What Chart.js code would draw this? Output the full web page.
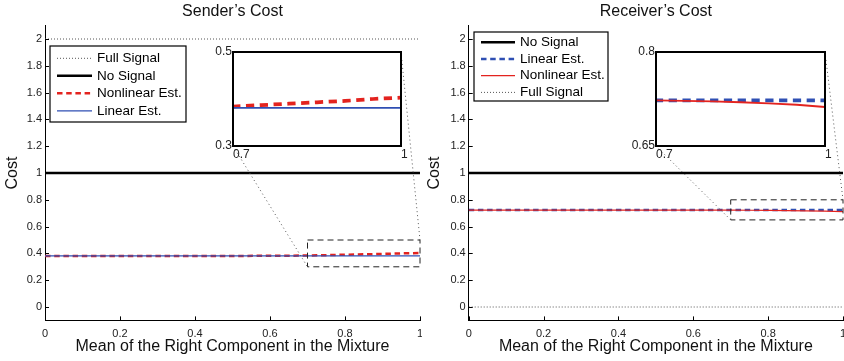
<!DOCTYPE html>
<html>
<head>
<meta charset="utf-8">
<script src="https://cdn.jsdelivr.net/npm/chart.js@4.4.0/dist/chart.umd.min.js"></script>
<style>
  html, body { margin: 0; padding: 0; background: #fff; }
  #wrap { position: relative; width: 844px; height: 361px; overflow: hidden; }
  #wrap canvas { position: absolute; }
</style>
</head>
<body>
<div id="wrap">
  <canvas id="senderChart" width="422" height="361" style="left:0;top:0"></canvas>
  <canvas id="receiverChart" width="422" height="361" style="left:422px;top:0"></canvas>
  <canvas id="senderInset" width="204" height="120" style="left:207px;top:44px"></canvas>
  <canvas id="receiverInset" width="205" height="120" style="left:630px;top:44px"></canvas>
</div>
<script>
// x positions (mean of the right component)
const xValues = [0, 0.1, 0.2, 0.3, 0.4, 0.5, 0.6, 0.7, 0.75, 0.8, 0.85, 0.9, 0.95, 1];

// Sender's cost
const senderFull      = [2, 2, 2, 2, 2, 2, 2, 2, 2, 2, 2, 2, 2, 2];
const senderNoSignal  = [1, 1, 1, 1, 1, 1, 1, 1, 1, 1, 1, 1, 1, 1];
const senderNonlinear = [0.381, 0.381, 0.381, 0.381, 0.381, 0.381, 0.382, 0.384, 0.387, 0.390, 0.393, 0.396, 0.400, 0.403];
const senderLinear    = [0.381, 0.381, 0.381, 0.381, 0.381, 0.381, 0.381, 0.381, 0.381, 0.381, 0.381, 0.381, 0.381, 0.381];

// Receiver's cost
const receiverNoSignal  = [1, 1, 1, 1, 1, 1, 1, 1, 1, 1, 1, 1, 1, 1];
const receiverLinear    = [0.723, 0.723, 0.723, 0.723, 0.723, 0.723, 0.723, 0.723, 0.723, 0.723, 0.723, 0.723, 0.723, 0.723];
const receiverNonlinear = [0.723, 0.723, 0.723, 0.723, 0.723, 0.723, 0.723, 0.7229, 0.7221, 0.7212, 0.7198, 0.718, 0.7158, 0.7122];
const receiverFull      = [0, 0, 0, 0, 0, 0, 0, 0, 0, 0, 0, 0, 0, 0];

// axis ticks
const xTicks = [0, 0.2, 0.4, 0.6, 0.8, 1];
const xTickLabels = ["0", "0.2", "0.4", "0.6", "0.8", "1"];
const yTicks = [0, 0.2, 0.4, 0.6, 0.8, 1, 1.2, 1.4, 1.6, 1.8, 2];
const yTickLabels = ["0", "0.2", "0.4", "0.6", "0.8", "1", "1.2", "1.4", "1.6", "1.8", "2"];

// zoomed regions shown in the insets
const senderZoomX = [0.7, 1];
const senderZoomY = [0.3, 0.5];
const senderZoomXLabels = ["0.7", "1"];
const senderZoomYLabels = ["0.3", "0.5"];
const receiverZoomX = [0.7, 1];
const receiverZoomY = [0.65, 0.8];
const receiverZoomXLabels = ["0.7", "1"];
const receiverZoomYLabels = ["0.65", "0.8"];

Chart.defaults.font.family = '"Liberation Sans", Arial, sans-serif';
Chart.defaults.color = "#222";

const RED = "#e3231f";
const BLUE = "#2f4fb3";

function pts(ys) {
  return xValues.map((x, i) => ({ x: x, y: ys[i] }));
}

// k scales dash / width (insets are drawn a bit larger)
function line(label, ys, color, width, dash, k) {
  return {
    label: label,
    data: pts(ys),
    borderColor: color,
    borderWidth: width * k,
    borderDash: dash.map(d => d * k),
    pointRadius: 0,
    tension: 0,
    fill: false,
  };
}

function senderSets(k) {
  const sets = [
    line("Full Signal", senderFull, "#555", 1, [1, 2], 1),
    line("No Signal", senderNoSignal, "#000", 2.5, [], k),
    line("Nonlinear Est.", senderNonlinear, RED, 2.5, [5.5, 3.7], k),
    line("Linear Est.", senderLinear, BLUE, 1.2, [], k),
  ];
  sets.forEach((s, i) => (s.order = sets.length - i)); // last one on top
  return sets;
}

function receiverSets(k) {
  const sets = [
    line("No Signal", receiverNoSignal, "#000", 2.5, [], k),
    line("Linear Est.", receiverLinear, BLUE, 2.5, [5.5, 3.7], k),
    line("Nonlinear Est.", receiverNonlinear, RED, 1.2, [], k),
    line("Full Signal", receiverFull, "#555", 1, [1, 2], 1),
  ];
  sets.forEach((s, i) => (s.order = sets.length - i));
  return sets;
}

// white inset box with a full frame
const insetFrame = {
  id: "insetFrame",
  beforeDatasetsDraw(chart) {
    const a = chart.chartArea;
    chart.ctx.save();
    chart.ctx.fillStyle = "#fff";
    chart.ctx.fillRect(a.left, a.top, a.right - a.left, a.bottom - a.top);
    chart.ctx.restore();
  },
  afterDraw(chart) {
    const a = chart.chartArea;
    const ctx = chart.ctx;
    ctx.save();
    ctx.strokeStyle = "#000";
    ctx.lineWidth = 2;
    ctx.strokeRect(a.left, a.top, a.right - a.left, a.bottom - a.top);
    ctx.restore();
  },
};

function makeInset(id, sets, zx, zy, xl, yl) {
  return new Chart(document.getElementById(id), {
    type: "line",
    data: { datasets: sets },
    plugins: [insetFrame],
    options: {
      animation: false,
      responsive: false,
      events: [],
      layout: { padding: { top: 8, right: 10, left: 0, bottom: 0 } },
      plugins: { legend: { display: false }, title: { display: false }, tooltip: { enabled: false } },
      scales: {
        x: {
          type: "linear",
          min: zx[0],
          max: zx[1],
          grid: { display: false, drawTicks: false },
          border: { display: false },
          ticks: { align: "start", padding: 1, maxRotation: 0, font: { size: 12 }, callback: (v, i) => xl[i] },
          afterBuildTicks: s => { s.ticks = zx.map(v => ({ value: v })); },
          afterFit: s => { s.height = 18; s.paddingLeft = 0; s.paddingRight = 0; },
        },
        y: {
          type: "linear",
          min: zy[0],
          max: zy[1],
          grid: { display: false, drawTicks: false },
          border: { display: false },
          ticks: { padding: 1, font: { size: 12 }, callback: (v, i) => yl[i] },
          afterBuildTicks: s => { s.ticks = zy.map(v => ({ value: v })); },
          afterFit: s => { s.width = 26; s.paddingTop = 0; s.paddingBottom = 0; },
        },
      },
    },
  });
}

// MATLAB style ticks pointing into the plot
const inwardTicks = {
  id: "inwardTicks",
  afterDraw(chart) {
    const { ctx, chartArea: a, scales } = chart;
    ctx.save();
    ctx.strokeStyle = "#000";
    ctx.lineWidth = 1;
    ctx.beginPath();
    scales.x.ticks.forEach(t => {
      const px = Math.round(scales.x.getPixelForValue(t.value)) + 0.5;
      ctx.moveTo(px, a.bottom);
      ctx.lineTo(px, a.bottom - 4);
    });
    scales.y.ticks.forEach(t => {
      const py = Math.round(scales.y.getPixelForValue(t.value)) + 0.5;
      ctx.moveTo(a.left, py);
      ctx.lineTo(a.left + 4, py);
    });
    ctx.stroke();
    ctx.restore();
  },
};

// dashed zoom rectangle + dotted lines to the inset
function zoomMarks(zx, zy, inset) {
  return {
    id: "zoomMarks",
    afterDraw(chart) {
      const { ctx, scales: { x, y } } = chart;
      const x0 = x.getPixelForValue(zx[0]), x1 = x.getPixelForValue(zx[1]);
      const y0 = y.getPixelForValue(zy[0]), y1 = y.getPixelForValue(zy[1]);
      const dx = inset.canvas.offsetLeft - chart.canvas.offsetLeft;
      const dy = inset.canvas.offsetTop - chart.canvas.offsetTop;
      const ia = inset.chartArea;
      ctx.save();
      ctx.strokeStyle = "#222";
      ctx.lineWidth = 1;
      ctx.setLineDash([6, 4]);
      ctx.strokeRect(x0, y1, x1 - x0, y0 - y1);
      ctx.strokeStyle = "#555";
      ctx.setLineDash([1, 3]);
      ctx.beginPath();
      ctx.moveTo(ia.left + dx, ia.bottom + dy);
      ctx.lineTo(x0, y0);
      ctx.moveTo(ia.right + dx, ia.top + dy);
      ctx.lineTo(x1, y1);
      ctx.stroke();
      ctx.restore();
    },
  };
}

// boxed legend inside the plot
function boxLegend(box) {
  return {
    id: "boxLegend",
    afterDraw(chart) {
      const ctx = chart.ctx;
      ctx.save();
      ctx.fillStyle = "#fff";
      ctx.fillRect(box.x, box.y, box.w, box.h);
      ctx.strokeStyle = "#000";
      ctx.lineWidth = 1.2;
      ctx.strokeRect(box.x, box.y, box.w, box.h);
      ctx.font = '13.5px "Liberation Sans", Arial, sans-serif';
      ctx.textBaseline = "middle";
      chart.data.datasets.forEach((ds, i) => {
        const yy = box.rowY + i * box.rowStep;
        ctx.strokeStyle = ds.borderColor;
        ctx.lineWidth = ds.borderWidth;
        ctx.setLineDash(ds.borderDash || []);
        ctx.beginPath();
        ctx.moveTo(box.lineX0, yy);
        ctx.lineTo(box.lineX1, yy);
        ctx.stroke();
        ctx.fillStyle = "#000";
        ctx.fillText(ds.label, box.textX, yy);
      });
      ctx.restore();
    },
  };
}

function makeMain(id, title, sets, yWidth, padRight, plugins) {
  return new Chart(document.getElementById(id), {
    type: "line",
    data: { datasets: sets },
    plugins: plugins,
    options: {
      animation: false,
      responsive: false,
      events: [],
      layout: { padding: { top: 0, right: padRight, left: 0, bottom: 0 } },
      plugins: {
        legend: { display: false },
        tooltip: { enabled: false },
        title: {
          display: true,
          text: title,
          fullSize: false,
          color: "#111",
          font: { size: 16, weight: "normal" },
          padding: { top: 1.5, bottom: 4.9 },
        },
      },
      scales: {
        x: {
          type: "linear",
          min: 0,
          max: 1,
          grid: { display: false, drawTicks: false },
          border: { display: true, color: "#000", width: 1 },
          ticks: { padding: 6.5, maxRotation: 0, font: { size: 11 }, callback: (v, i) => xTickLabels[i] },
          title: {
            display: true,
            text: "Mean of the Right Component in the Mixture",
            color: "#111",
            font: { size: 16 },
            padding: { top: 0, bottom: 4.4 },
          },
          afterBuildTicks: s => { s.ticks = xTicks.map(v => ({ value: v })); },
          afterFit: s => { s.height = 40.6; s.paddingLeft = 0; s.paddingRight = 0; },
        },
        y: {
          type: "linear",
          min: -0.1,
          max: 2.1,
          grid: { display: false, drawTicks: false },
          border: { display: true, color: "#000", width: 1 },
          ticks: { padding: 3, font: { size: 11 }, callback: (v, i) => yTickLabels[i] },
          title: {
            display: true,
            text: "Cost",
            color: "#111",
            font: { size: 16 },
            padding: { top: 3.4, bottom: 0 },
          },
          afterBuildTicks: s => { s.ticks = yTicks.map(v => ({ value: v })); },
          afterFit: s => { s.width = yWidth; s.paddingTop = 0; s.paddingBottom = 0; },
        },
      },
    },
  });
}

// insets first so the main charts can find their frames
const senderInset = makeInset("senderInset", senderSets(1.5), senderZoomX, senderZoomY, senderZoomXLabels, senderZoomYLabels);
const receiverInset = makeInset("receiverInset", receiverSets(1.5), receiverZoomX, receiverZoomY, receiverZoomXLabels, receiverZoomYLabels);

makeMain("senderChart", "Sender\u2019s Cost", senderSets(1), 45, 2, [
  inwardTicks,
  zoomMarks(senderZoomX, senderZoomY, senderInset),
  boxLegend({ x: 50, y: 46, w: 136, h: 76, rowY: 58.3, rowStep: 17.5, lineX0: 57, lineX1: 92, textX: 97 }),
]);

makeMain("receiverChart", "Receiver\u2019s Cost", receiverSets(1), 46.7, 1, [
  inwardTicks,
  zoomMarks(receiverZoomX, receiverZoomY, receiverInset),
  boxLegend({ x: 52, y: 32, w: 134, h: 69, rowY: 42.3, rowStep: 16.7, lineX0: 59, lineX1: 93, textX: 98 }),
]);
</script>
</body>
</html>
